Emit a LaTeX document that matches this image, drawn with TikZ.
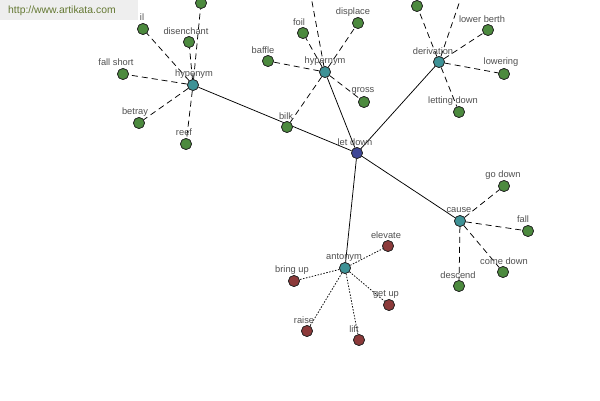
\documentclass[tikz,border=0pt]{standalone}
\usepackage{fontspec}
\setmainfont{Liberation Sans}
\definecolor{leafgreen}{RGB}{76,138,62}
\definecolor{relteal}{RGB}{62,146,150}
\definecolor{rootblue}{RGB}{62,70,150}
\definecolor{oppred}{RGB}{140,58,58}
\definecolor{labelgray}{RGB}{80,80,80}
\definecolor{wmgray}{RGB}{238,238,238}
\definecolor{wmtext}{RGB}{100,120,50}
\begin{document}
\begin{tikzpicture}[x=1pt,y=-1pt,
 vtx/.style={circle,draw=black!85,line width=0.7pt,minimum size=11pt,inner sep=0pt},
 leaf/.style={vtx,fill=leafgreen},
 rel/.style={vtx,fill=relteal},
 opp/.style={vtx,fill=oppred},
 root/.style={vtx,fill=rootblue},
 lbl/.style={font=\fontsize{9.3}{10}\selectfont,text=labelgray,inner sep=0pt},
 solidedge/.style={draw=black,line width=0.75pt},
 dashedge/.style={draw=black,line width=0.75pt,dash pattern=on 6pt off 4pt},
 dotedge/.style={draw=black,line width=0.75pt,dash pattern=on 1.5pt off 1.5pt}]
\useasboundingbox (0,0) rectangle (600,400);
\fill[white] (0,0) rectangle (600,400);
\clip (0,0) rectangle (600,400);

% main nodes
\node[root] (letdown) at (357,153) {};
\node[rel] (hypo) at (193,85) {};
\node[rel] (hyper) at (325,72) {};
\node[rel] (deriv) at (439,62) {};
\node[rel] (cause) at (460,221) {};
\node[rel] (anto) at (345,268) {};

% hyponym leaves
\node[leaf] (hyTop) at (201,3) {};
\node[leaf] (fail) at (143,29) {};
\node[leaf] (disench) at (189,42) {};
\node[leaf] (fallshort) at (123,74) {};
\node[leaf] (betray) at (139,123) {};
\node[leaf] (reef) at (186,144) {};

% hypernym leaves
\coordinate (heTop) at (308,-20);
\node[leaf] (foil) at (303,33) {};
\node[leaf] (displace) at (358,23) {};
\node[leaf] (baffle) at (268,61) {};
\node[leaf] (gross) at (364,102) {};
\node[leaf] (bilk) at (287,127) {};

% derivation leaves
\node[leaf] (deTop) at (417,6) {};
\coordinate (deUp) at (467,-20);
\node[leaf] (lowerberth) at (488,30) {};
\node[leaf] (lowering) at (504,74) {};
\node[leaf] (lettingdown) at (459,112) {};

% cause leaves
\node[leaf] (godown) at (504,186) {};
\node[leaf] (fallc) at (528,231) {};
\node[leaf] (comedown) at (503,272) {};
\node[leaf] (descend) at (459,286) {};

% antonym leaves
\node[opp] (elevate) at (388,246) {};
\node[opp] (bringup) at (294,281) {};
\node[opp] (getup) at (389,305) {};
\node[opp] (raise) at (307,331) {};
\node[opp] (lift) at (359,340) {};

% edges
\draw[solidedge] (letdown) -- (hypo);
\draw[solidedge] (letdown) -- (hyper);
\draw[solidedge] (letdown) -- (deriv);
\draw[solidedge] (letdown) -- (cause);
\draw[solidedge] (letdown) -- (anto);

\foreach \t in {hyTop,fail,disench,fallshort,betray,reef}
  \draw[dashedge] (hypo) -- (\t);
\foreach \t in {heTop,foil,displace,baffle,gross,bilk}
  \draw[dashedge] (hyper) -- (\t);
\foreach \t in {deTop,deUp,lowerberth,lowering,lettingdown}
  \draw[dashedge] (deriv) -- (\t);
\foreach \t in {godown,fallc,comedown,descend}
  \draw[dashedge] (cause) -- (\t);
\foreach \t in {elevate,bringup,getup,raise,lift}
  \draw[dotedge] (anto) -- (\t);

% redraw nodes on top of the connectors
\foreach \p/\s in {{357,153}/root,{193,85}/rel,{325,72}/rel,{439,62}/rel,{460,221}/rel,{345,268}/rel}
  \node[\s] at (\p) {};
\foreach \p in {{201,3},{143,29},{189,42},{123,74},{139,123},{186,144},{303,33},{358,23},{268,61},{364,102},{287,127},{417,6},{488,30},{504,74},{459,112},{504,186},{528,231},{503,272},{459,286}}
  \node[leaf] at (\p) {};
\foreach \p in {{388,246},{294,281},{389,305},{307,331},{359,340}}
  \node[opp] at (\p) {};

% labels
\node[lbl] (tLetdown) at (355,142) {let down};
\node[lbl] (tHypo) at (194,74) {hyponym};
\node[lbl] (tHyper) at (325,61) {hypernym};
\node[lbl] (tDeriv) at (433,51) {derivation};
\node[lbl] (tCause) at (459,210) {cause};
\node[lbl] (tAnto) at (344,257) {antonym};

\node[lbl] (tFail) at (142,17) {il};
\node[lbl] (tDisench) at (186,31) {disenchant};
\node[lbl] (tFallshort) at (116,62) {fall short};
\node[lbl] (tBetray) at (135,112) {betray};
\node[lbl] (tReef) at (184,132) {reef};

\node[lbl] (tFoil) at (299,22) {foil};
\node[lbl] (tDisplace) at (353,12) {displace};
\node[lbl] (tBaffle) at (263,50) {baffle};
\node[lbl] (tGross) at (363,91) {gross};
\node[lbl] (tBilk) at (286,116) {bilk};

\node[lbl] (tLowerberth) at (482,19) {lower berth};
\node[lbl] (tLowering) at (501,62) {lowering};
\node[lbl] (tLettingdown) at (453,101) {letting down};

\node[lbl] (tGodown) at (503,175) {go down};
\node[lbl] (tFallc) at (523,219) {fall};
\node[lbl] (tComedown) at (504,261) {come down};
\node[lbl] (tDescend) at (458,275) {descend};

\node[lbl] (tElevate) at (386,235) {elevate};
\node[lbl] (tBringup) at (292,270) {bring up};
\node[lbl] (tGetup) at (386,294) {get up};
\node[lbl] (tRaise) at (304,320) {raise};
\node[lbl] (tLift) at (354,329) {lift};

% watermark
\node[fill=wmgray,anchor=north west,minimum width=138pt,minimum height=20pt,inner sep=0pt] (wm) at (0,0) {};
\node[anchor=west,inner sep=0pt,text=wmtext,font=\fontsize{10.4}{11}\selectfont] (wmtxt) at (8,11) {http://www.artikata.com};
\end{tikzpicture}
\end{document}
